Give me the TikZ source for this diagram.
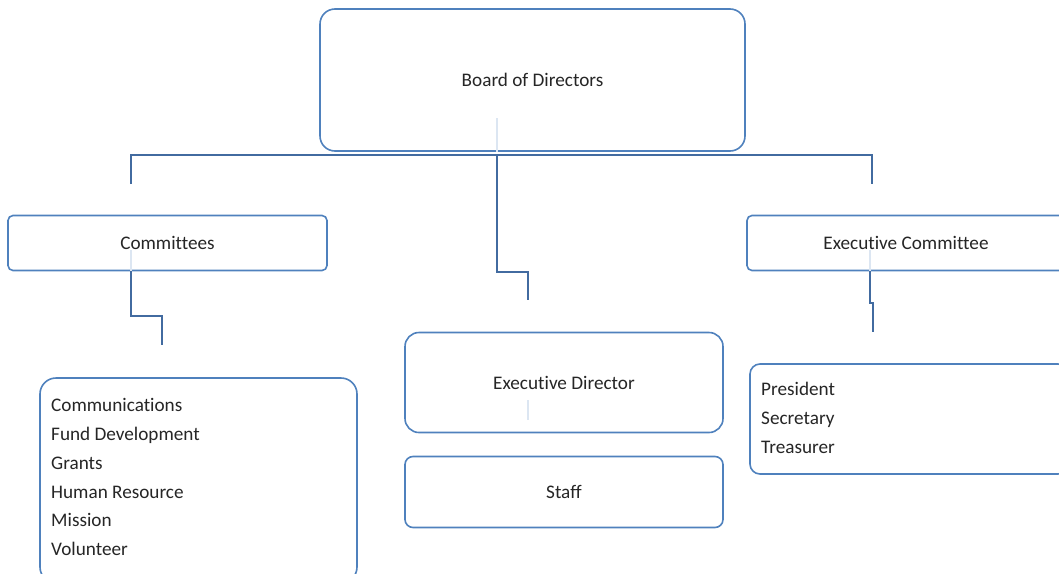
\documentclass[tikz,border=0pt]{standalone}
\usepackage{fontspec}
\setmainfont{Carlito}[Ligatures={NoCommon}]
\definecolor{boxblue}{RGB}{79,129,189}
\definecolor{connblue}{RGB}{66,107,160}
\definecolor{faint}{RGB}{220,230,242}
\definecolor{txt}{RGB}{38,38,38}
\tikzset{
  orgbox/.style={draw=boxblue, line width=1.6pt, fill=white, inner sep=0pt, text=txt, font=\fontsize{19.2}{22}\selectfont},
  conn/.style={draw=connblue, line width=2.4pt},
  ghost/.style={draw=faint, line width=1.2pt},
  item/.style={anchor=base west, inner sep=0pt, text=txt, font=\fontsize{19.2}{22}\selectfont},
}
\begin{document}
\begin{tikzpicture}[x=1pt,y=-1pt]
\useasboundingbox (0,0) rectangle (1059,573);
\clip (0,0) rectangle (1059,573);
% boxes
\node[orgbox, rounded corners=15pt, minimum width=425pt, minimum height=142pt] (board) at (532.5,80) {Board of Directors};
\node[orgbox, rounded corners=5pt, minimum width=319pt, minimum height=55pt] (comm) at (167.5,243) {Committees};
\node[orgbox, rounded corners=5pt, minimum width=318pt, minimum height=55pt] (exco) at (906,243) {Executive Committee};
\node[orgbox, rounded corners=14pt, minimum width=318pt, minimum height=100pt] (exdir) at (564,382.5) {Executive Director};
\node[orgbox, rounded corners=8pt, minimum width=318pt, minimum height=71pt] (staff) at (564,492) {Staff};
\node[orgbox, rounded corners=16pt, minimum width=317pt, minimum height=205pt] (list) at (198.5,480.5) {};
\node[orgbox, rounded corners=10pt, minimum width=318pt, minimum height=110pt] (officers) at (909,419) {};
% list items
\node[item] (l1) at (51,411) {Communications};
\node[item] (l2) at (51,440) {Fund Development};
\node[item] (l3) at (51,469) {Grants};
\node[item] (l4) at (51,498) {Human Resource};
\node[item] (l5) at (51,526) {Mission};
\node[item] (l6) at (51,555) {Volunteer};
\node[item] (o1) at (761,395) {President};
\node[item] (o2) at (761,424) {Secretary};
\node[item] (o3) at (761,453) {Treasurer};
% faint traces of connectors behind boxes
\draw[ghost] (497,118) -- (board.south -| 497,0);
\draw[ghost] (131,250) -- (comm.south -| 131,0);
\draw[ghost] (528,400) -- (528,420);
\draw[ghost] (870,250) -- (exco.south -| 870,0);
% connector coordinates
\coordinate (barL) at (131,155);
\coordinate (barR) at (872,155);
\coordinate (barM) at (497,155);
\coordinate (endL) at (131,184);
\coordinate (endR) at (872,184);
\coordinate (midA) at (497,272);
\coordinate (endM) at (528,300);
\coordinate (cA) at (131,316);
\coordinate (endC) at (162,345);
\coordinate (eA) at (870,303);
\coordinate (endE) at (873,332);
% connectors
\draw[conn] (endL) -- (barL) -- (barR) -- (endR);
\draw[conn] (barM) -- (midA) -| (endM);
\draw[conn] (comm.south -| cA) -- (cA) -| (endC);
\draw[conn] (exco.south -| eA) -- (eA) -| (endE);
\end{tikzpicture}
\end{document}
